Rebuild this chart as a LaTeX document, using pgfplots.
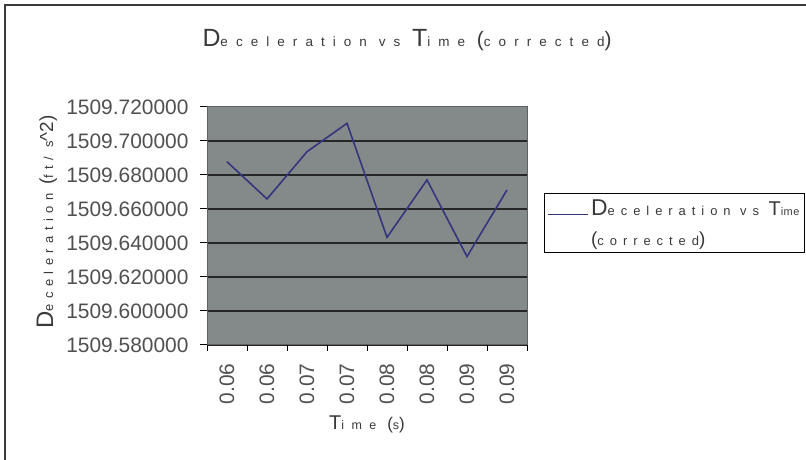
\documentclass[border=0pt]{standalone}
\usepackage{pgfplots}
\pgfplotsset{compat=1.18}
\usepackage{fontspec}
\setmainfont{Liberation Sans}
\newfontfamily\spacedT[LetterSpace=60]{Liberation Sans}
\newfontfamily\spaced[LetterSpace=46]{Liberation Sans}
\newfontfamily\spacedY[LetterSpace=42]{Liberation Sans}
\newfontfamily\tight[LetterSpace=4]{Liberation Sans}

\definecolor{plotbg}{HTML}{838A89}
\definecolor{plotedge}{HTML}{5C6161}
\definecolor{serieslc}{HTML}{35357F}
\definecolor{txt}{HTML}{3A3A3A}
\definecolor{ticktxt}{HTML}{505050}
\definecolor{frame}{HTML}{3C3C3C}

% tall capitals next to small, widely spaced lowercase
\newcommand\Cap[2]{{\fontsize{#1}{#1}\selectfont #2}}
\newcommand\Low[3][\spaced]{{#1\fontsize{#2}{#2}\selectfont #3}}

\begin{document}
\begin{tikzpicture}[x=1bp,y=1bp]
\useasboundingbox (0,0) rectangle (806,460);
\fill[white] (0,0) rectangle (806,460);
\draw[line width=2bp, frame] (5,-5) -- (5,455) -- (811,455);

% y values are stored as deceleration minus 1509 ft/s^2,
% so the tiny spread is not lost in TeX's float arithmetic
\begin{axis}[
  at={(207bp,115bp)}, anchor=south west,
  scale only axis, width=320bp, height=238bp,
  xmin=-0.5, xmax=7.5,
  ymin=0.58, ymax=0.72,
  axis background/.style={fill=plotbg},
  axis line style={draw=plotedge, line width=1bp},
  xtick={0,...,7},
  xticklabels={0.06,0.06,0.07,0.07,0.08,0.08,0.09,0.09},
  minor xtick={-0.5,0.5,1.5,2.5,3.5,4.5,5.5,6.5,7.5},
  ytick={0.58,0.60,0.62,0.64,0.66,0.68,0.70},
  yticklabels={1509.580000,1509.600000,1509.620000,1509.640000,1509.660000,1509.680000,1509.700000},
  extra y ticks={0.72},
  extra y tick labels={1509.720000},
  extra y tick style={grid=none},
  ymajorgrids,
  major grid style={draw=black!85, line width=1.3bp},
  tick align=outside, xtick pos=bottom, ytick pos=left,
  major tick length=7bp, minor tick length=6bp,
  tick style={black, line width=1bp},
  major x tick style={draw=none},
  tick label style={font=\fontsize{21}{21}\selectfont, text=ticktxt},
  x tick label style={rotate=90, anchor=east},
  xticklabel shift=8bp,
  yticklabel shift=8bp,
  legend style={at={(1.053,0.639)}, anchor=north west, draw=black,
    line width=1.2bp, fill=white, inner xsep=3bp, inner ysep=4bp,
    text=txt, font=\fontsize{13}{30}\selectfont,
    cells={align=left}},
  legend cell align=left,
  legend image code/.code={\draw[#1] (0bp,8.5bp) -- (40bp,8.5bp);},
]
\addplot[serieslc, line width=1.6bp] coordinates {
  (0,0.6878) (1,0.6659) (2,0.6937) (3,0.7104)
  (4,0.6433) (5,0.6771) (6,0.6320) (7,0.6712)
};
\addlegendentry{\Cap{23}{D}\Low{13}{eceleration vs }\Cap{20}{T}\Low[\tight]{11}{ime}\\\Cap{19}{(}\Low{13}{corrected}\Cap{19}{)}}
\end{axis}

\node[anchor=base, text=txt] at (407,413)
  {\Cap{25}{D}\Low[\spacedT]{13.5}{eceleration vs }\Cap{25}{T}\Low[\spacedT]{13.5}{ime }\Cap{21}{(}\Low[\spacedT]{13.5}{corrected}\Cap{21}{)}};
\node[anchor=base, rotate=90, text=txt] at (53,238)
  {\Cap{24}{D}\Low[\spacedY]{13}{eceleration }\Cap{19}{(}\Low[\spacedY]{13}{ft/ s}\Cap{19}{\textasciicircum 2)}};
\node[anchor=base, text=txt] at (367,30)
  {\Cap{20}{T}\Low[\spacedT]{12.5}{ime }\Cap{17}{(}\Low[\spacedT]{12.5}{s}\Cap{17}{)}};
\end{tikzpicture}
\end{document}
